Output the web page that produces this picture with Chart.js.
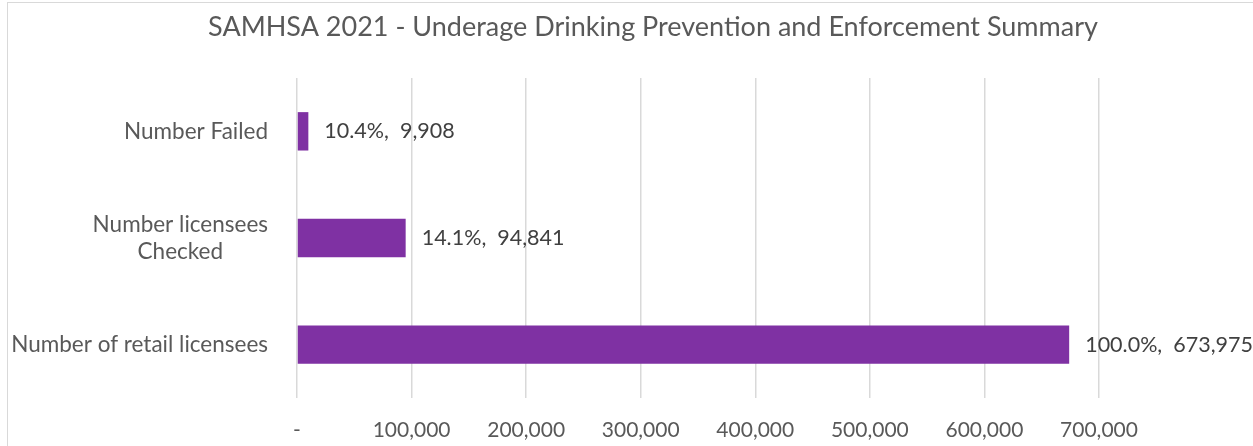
<!DOCTYPE html>
<html>
<head>
<meta charset="utf-8">
<script src="https://cdn.jsdelivr.net/npm/chart.js"></script>
<style>
  html, body { margin: 0; padding: 0; background: #fff; }
  #wrap { position: relative; width: 1253px; height: 446px; overflow: hidden; }
  #frame { position: absolute; left: 7px; top: 2px; width: 1400px; height: 600px;
           border-left: 1px solid #d9d9d9; border-top: 1px solid #d9d9d9; pointer-events: none; }
</style>
</head>
<body>
<div id="wrap">
  <canvas id="canvasSamhsa" width="1253" height="446"></canvas>
  <div id="frame"></div>
</div>
<script>
// datos del grafico
var categorias = [['Number Failed'], ['Number licensees', 'Checked'], ['Number of retail licensees']];
var valores = [9908, 94841, 673975];
var porcentajes = [10.4, 14.1, 100.0];
var titulo = 'SAMHSA 2021 - Underage Drinking Prevention and Enforcement Summary';

var FUENTE = 'Lato, "Open Sans", sans-serif';
var GRIS = '#595959';

function formato(n){
	return n.toLocaleString('en-US');
}

// titulo, etiquetas del eje y y etiquetas de datos
var dibujarTextos = {
	id: 'dibujarTextos',
	afterDraw: function(chart){
		var ctx = chart.ctx;
		var yScale = chart.scales.y;
		ctx.save();

		// titulo
		ctx.fillStyle = GRIS;
		ctx.font = '27px ' + FUENTE;
		ctx.textAlign = 'center';
		ctx.textBaseline = 'middle';
		ctx.fillText(titulo, 653, 27);

		// etiquetas de categoria (bloque alineado a la derecha, lineas centradas)
		ctx.font = '22.5px ' + FUENTE;
		var derecha = 268;
		categorias.forEach(function(lineas, i){
			var yc = yScale.getPixelForTick(i);
			var ancho = 0;
			lineas.forEach(function(l){ ancho = Math.max(ancho, ctx.measureText(l).width); });
			var xc = derecha - ancho / 2;
			var alto = 27;
			var y0 = yc - (lineas.length - 1) * alto / 2;
			lineas.forEach(function(l, k){
				ctx.fillText(l, xc, y0 + k * alto);
			});
		});

		// etiquetas de datos
		ctx.fillStyle = '#404040';
		ctx.textAlign = 'left';
		ctx.font = '21.5px ' + FUENTE;
		var meta = chart.getDatasetMeta(0);
		meta.data.forEach(function(bar, i){
			var texto = porcentajes[i].toFixed(1) + '%,  ' + formato(valores[i]);
			ctx.fillText(texto, bar.x + 16, bar.y);
		});
		ctx.restore();
	}
};

window.onload = function(){
	var ctx = document.getElementById('canvasSamhsa').getContext('2d');
	window.myBar = new Chart(ctx, {
		type: 'bar',
		data: {
			labels: categorias,
			datasets: [{
				data: valores,
				backgroundColor: '#7F31A3',
				borderWidth: 0,
				categoryPercentage: 1,
				barPercentage: 0.36
			}]
		},
		plugins: [dibujarTextos],
		options: {
			indexAxis: 'y',
			responsive: false,
			animation: false,
			layout: { padding: { left: 0, right: 154, top: 78, bottom: 0 } },
			plugins: {
				legend: { display: false },
				title: { display: false },
				tooltip: { enabled: false }
			},
			scales: {
				x: {
					min: 0,
					max: 700000,
					ticks: {
						stepSize: 100000,
						color: GRIS,
						padding: 20,
						font: { family: FUENTE, size: 21 },
						callback: function(v){ return v === 0 ? '-' : formato(v); }
					},
					grid: { color: '#d9d9d9', lineWidth: 1.5, drawTicks: false },
					border: { display: false },
					afterFit: function(scale){ scale.height = 48; }
				},
				y: {
					ticks: { display: false },
					grid: { display: false },
					border: { display: false },
					afterFit: function(scale){ scale.width = 297; }
				}
			}
		}
	});
};
</script>
</body>
</html>
